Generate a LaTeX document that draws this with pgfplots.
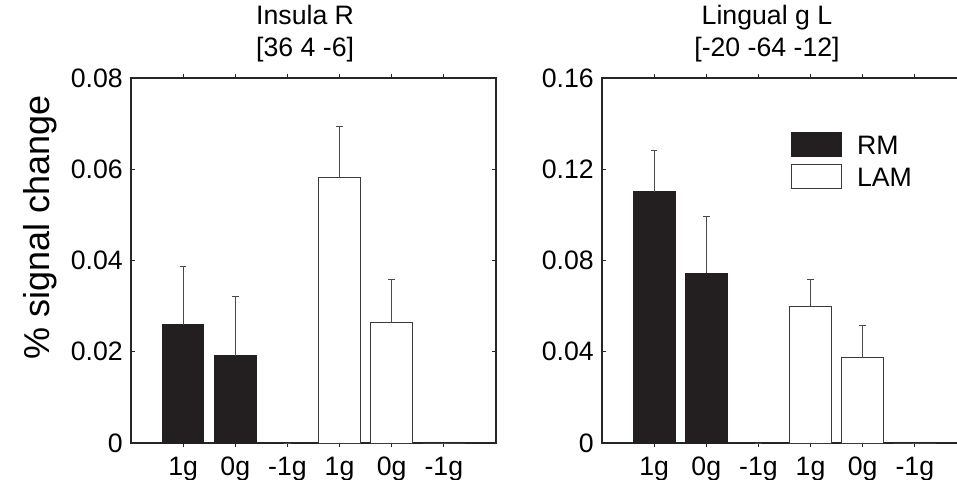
\documentclass[border=0pt]{standalone}
\usepackage{fontspec}
\setmainfont{Liberation Sans}
\usepackage{pgfplots}
\pgfplotsset{compat=1.18}
\definecolor{barblack}{HTML}{231F20}
\definecolor{edgegray}{HTML}{3A3A3A}
\definecolor{errgray}{HTML}{4A4A4A}
\definecolor{axgray}{HTML}{262626}

\pgfplotsset{
  panel/.style={
    scale only axis, width=273.75pt, height=273.75pt,
    xmin=0, xmax=7, ymin=0,
    xtick={1,2,3,4,5,6}, xticklabels={1g,0g,-1g,1g,0g,-1g},
    scaled y ticks=false,
    tick align=inside, major tick length=3pt,
    xtick pos=both, ytick pos=both, xticklabel pos=left, yticklabel pos=left,
    axis line style={axgray, line width=0.9pt},
    tick style={axgray, line width=0.75pt},
    ticklabel style={font=\fontsize{20}{24}\selectfont},
    xticklabel style={anchor=base, yshift=-21pt},
    yticklabel style={anchor=east, inner sep=0pt, xshift=-6pt},
    title style={font=\fontsize{20}{24}\selectfont, align=center, anchor=south, inner sep=0pt, yshift=6pt},
    ybar, bar width=0.8,
  },
  rmbar/.style={fill=barblack, draw=barblack, line width=0.75pt, bar shift=0pt,
    legend image code/.code={\draw[fill=barblack, draw=barblack, line width=0.75pt] (0pt,-1.1pt) rectangle (37.5pt,16.9pt);}},
  lambar/.style={fill=white, draw=edgegray, line width=0.75pt, bar shift=0pt,
    legend image code/.code={\draw[fill=white, draw=edgegray, line width=0.75pt] (0pt,-1.1pt) rectangle (37.5pt,16.9pt);}},
  eb/.style={error bars/.cd, y dir=plus, y explicit,
    error bar style={errgray, line width=0.75pt},
    error mark options={rotate=90, mark size=2.5pt, errgray, line width=0.75pt}},
}

\begin{document}
\begin{tikzpicture}
\begin{axis}[panel,
  at={(98.25pt,-332.25pt)}, anchor=south west,
  ymax=0.08, ytick={0,0.02,0.04,0.06,0.08},
  yticklabels={0,0.02,0.04,0.06,0.08},
  title={Insula R\\{}[36 4 -6]},
  title style={at={(axis description cs:0.477,1)}},
  ylabel={\% signal change},
  ylabel style={font=\fontsize{27}{32}\selectfont, at={(axis description cs:-0.222,0.590)}, anchor=base},
]
\addplot[rmbar, eb] coordinates {(1,0.0259) +- (0,0.0128) (2,0.0191) +- (0,0.0130) (3,0) +- (0,0)};
\addplot[lambar, eb] coordinates {(4,0.0581) +- (0,0.0113) (5,0.0264) +- (0,0.0095) (6,0) +- (0,0)};
\end{axis}

\begin{axis}[panel,
  at={(451.5pt,-332.25pt)}, anchor=south west,
  ymax=0.16, ytick={0,0.04,0.08,0.12,0.16},
  yticklabels={0,0.04,0.08,0.12,0.16},
  title={Lingual g L\\{}[-20 -64 -12]},
  title style={at={(axis description cs:0.452,1)}},
  legend style={draw=none, fill=none, at={(axis description cs:0.517,0.853)}, anchor=north west,
    inner sep=0pt, outer sep=0pt, row sep=2.9pt, column sep=11.5pt,
    font=\fontsize{20}{24}\selectfont,
    nodes={inner sep=0pt, text height=14pt, text depth=4pt, anchor=base west}},
  legend cell align=left,
]
\addplot[rmbar, eb] coordinates {(1,0.1102) +- (0,0.0182) (2,0.0744) +- (0,0.0247) (3,0) +- (0,0)};
\addlegendentry{RM}
\addplot[lambar, eb] coordinates {(4,0.0599) +- (0,0.0116) (5,0.0374) +- (0,0.0140) (6,0) +- (0,0)};
\addlegendentry{LAM}
\end{axis}
\pgfresetboundingbox
\path[use as bounding box] (0pt,0pt) rectangle (717.75pt,-359.25pt);
\end{tikzpicture}
\end{document}
